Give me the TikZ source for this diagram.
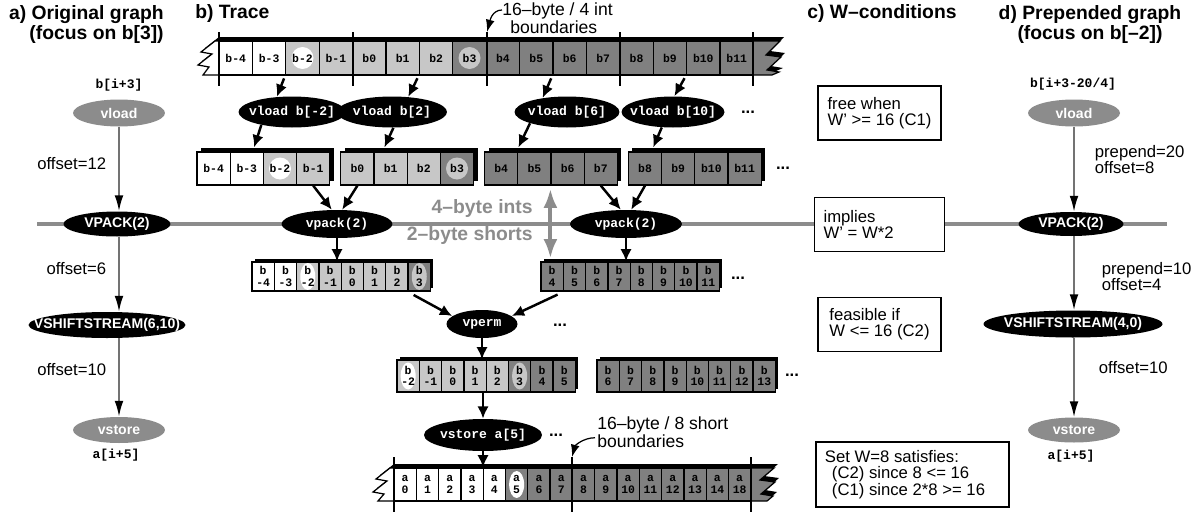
\documentclass[tikz,border=0pt]{standalone}
\usepackage{fontspec}
\setmainfont{Liberation Sans}
\setmonofont{Liberation Mono}
\usetikzlibrary{shapes.geometric, arrows.meta, positioning, calc}

\definecolor{cellL}{gray}{0.78}
\definecolor{cellD}{gray}{0.5}
\definecolor{lineG}{gray}{0.55}
\definecolor{edgeG}{gray}{0.45}

\begin{document}
\begin{tikzpicture}[x=0.02cm, y=-0.02cm,
    edge/.style={line width=0.7pt},
    cell/.style={draw, line width=0.7pt, minimum width=0.668cm, minimum height=0.68cm, inner sep=0pt, font=\ttfamily\bfseries\fontsize{6.5}{6.6}\selectfont},
    scell/.style={cell, minimum width=0.446cm, align=center},
    hlc/.style={path picture={\fill[fill=#1] (path picture bounding box.center) circle (0.22cm);}},
    hle/.style={path picture={\fill[fill=#1] (path picture bounding box.center) ellipse (0.15cm and 0.27cm);}},
    op/.style={ellipse, fill=black, text=white, inner xsep=-20pt, inner ysep=0pt, font=\ttfamily\bfseries\fontsize{7.4}{8}\selectfont},
    gop/.style={op, font=\bfseries\fontsize{8}{9}\selectfont},
    gmem/.style={gop, fill=lineG},
    addr/.style={font=\ttfamily\bfseries\fontsize{7.4}{8}\selectfont, inner sep=0pt},
    arrow/.style={-{Latex[length=7pt, width=6.5pt]}, line width=1.4pt},
    garrow/.style={draw=edgeG, line width=1pt, -{Latex[length=9pt, width=5pt, color=black]}},
    glab/.style={font=\fontsize{9.5}{9.2}\selectfont, inner sep=0pt, align=left},
    blab/.style={font=\fontsize{10}{9.2}\selectfont, inner sep=0pt, align=left},
    cond/.style={draw, line width=0.7pt, fill=white, minimum height=1.08cm, minimum width=2.46cm, inner xsep=0.18cm, align=left, font=\fontsize{9.5}{9.3}\selectfont},
    title/.style={font=\bfseries\fontsize{11}{10.3}\selectfont, inner sep=0pt},
    dots/.style={font=\bfseries\fontsize{9.5}{10}\selectfont, inner sep=0pt},
    lane/.style={draw=lineG, line width=2.3pt},
    flip/.style={lane, {Latex[length=11pt, width=8pt]}-{Latex[length=11pt, width=8pt]}}
  ]
  \useasboundingbox (0,0) rectangle (1196,514);

  % --- int / short divider ---
  \draw[lane] (37,224) -- (1167,224);

  % --- TITLES ---
  \node[title, anchor=north east, align=right] (ta) at (164,5) {a) Original graph\\(focus on b[3])};
  \node[title, anchor=north west] (tb) at (195,4) {b) Trace};
  \node[title, anchor=north west] (tc) at (807,4) {c) W–conditions};
  \node[title, anchor=north, align=center] (td) at (1090,5) {d) Prepended graph\\(focus on b[–2])};

  % --- SUBFIGURE A: ORIGINAL GRAPH ---
  \node[addr] (ain) at (119,85) {b[i+3]};
  \node[gmem, minimum width=1.84cm, minimum height=0.54cm] (gld) at (119,113) {vload};
  \node[gop, minimum width=2.14cm, minimum height=0.5cm] (gpk) at (117,224) {VPACK(2)};
  \node[gop, minimum width=3.14cm, minimum height=0.52cm] (gsh) at (107,325) {VSHIFTSTREAM(6,10)};
  \node[gmem, minimum width=1.84cm, minimum height=0.52cm] (gst) at (119,430) {vstore};
  \node[addr] (aout) at (116,455) {a[i+5]};
  \draw[garrow] (gld.south) -- node[glab, left=0.24cm, pos=0.43] (lo1) {offset=12} (gld.south |- gpk.north);
  \draw[garrow] (gld.south |- gpk.south) -- node[glab, left=0.24cm, pos=0.42] (lo2) {offset=6} (gld.south |- gsh.north);
  \draw[garrow] (gld.south |- gsh.south) -- node[glab, left=0.24cm, pos=0.4] (lo3) {offset=10} (gld.south |- gst.north);

  % --- SUBFIGURE B: TRACE ---
  % memory row b[]
  \fill[black, shift={(4,-4)}] (215,41) -- (780,41) -- (766,55) -- (781,57) -- (767,70) -- (779,72) -- (772,75) -- (203,75) -- (209,67) -- (198,65) -- (212,54) -- (201,52) -- cycle;
  \fill[white] (215,41) -- (219,41) -- (219,75) -- (203,75) -- (209,67) -- (198,65) -- (212,54) -- (201,52) -- cycle;
  \fill[cellD] (753,41) -- (780,41) -- (766,55) -- (781,57) -- (767,70) -- (779,72) -- (772,75) -- (753,75) -- cycle;
  \def\blist{b-4/white/white, b-3/white/white, b-2/cellL/white, b-1/cellL/cellL, b0/cellL/cellL, b1/cellL/cellL, b2/cellL/cellL, b3/cellD/cellL, b4/cellD/cellD, b5/cellD/cellD, b6/cellD/cellD, b7/cellD/cellD, b8/cellD/cellD, b9/cellD/cellD, b10/cellD/cellD, b11/cellD/cellD}
  \foreach \lab/\fc/\hc [count=\i from 0] in \blist
    \node[cell, fill=\fc, hlc=\hc] (m\i) at ({219+33.4*(\i+0.5)},58) {\lab};
  \draw[edge] (219,41) -- (215,41) -- (201,52) -- (212,54) -- (198,65) -- (209,67) -- (203,75) -- (219,75);
  \draw[edge] (753,41) -- (780,41) -- (766,55) -- (781,57) -- (767,70) -- (779,72) -- (772,75) -- (753,75);
  \foreach \x in {219,353,487,620,753}
    \draw[line width=0.8pt] (\x,32) -- (\x,86);
  \coordinate (tk1) at (487,32);
  \node[blab, anchor=north west] (bnd1) at (502,2) {16–byte / 4 int\\\hspace*{0.16cm}boundaries};
  \draw[edge, -{Latex[length=7pt, width=5pt]}] ($(bnd1.north west)+(0,8)$) to[out=180, in=75] (tk1);

  % vector loads
  \node[op, minimum width=2.14cm, minimum height=0.62cm] (ld1) at (292,112) {vload b[-2]};
  \node[op, minimum width=2.2cm, minimum height=0.62cm] (ld2) at (392,112) {vload b[2]};
  \node[op, minimum width=2.1cm, minimum height=0.62cm] (ld3) at (567,112) {vload b[6]};
  \node[op, minimum width=2.06cm, minimum height=0.62cm] (ld4) at (673,112) {vload b[10]};
  \node[dots] (d1) at (748,112) {...};
  \draw[arrow, shorten <=0.06cm] (m2.south west) -- (ld1.135);
  \draw[arrow, shorten <=0.06cm] (m6.south west) -- (ld2.43);
  \draw[arrow, shorten <=0.06cm] (m10.south west) -- (ld3.150);
  \draw[arrow, shorten <=0.06cm] (m14.south west) -- (ld4.85);

  % int registers
  \foreach \gx in {197,340.8,484.6,628.4}
    \fill[black] ({\gx+4},148) rectangle ++(132.8,33);
  \foreach \lab/\fc/\hc [count=\i from 0] in \blist
    \node[cell, minimum width=0.664cm, minimum height=0.66cm, fill=\fc, hlc=\hc] (r\i) at ({197+33.2*(\i+0.5)+11*floor(\i/4)},168.5) {\lab};
  \node[dots] (d2) at (783,168) {...};
  \draw[arrow] (ld1.203) -- ($(r1.north east)+(-10,-4)$);
  \draw[arrow] (ld2.275) -- ($(r5.north west)+(11,-4)$);
  \draw[arrow] (ld3.197) -- ($(r8.north east)+(0,-4)$);
  \draw[arrow] (ld4.234) -- ($(r12.north east)+(-9,-4)$);

  % packs
  \node[op, minimum width=2.22cm, minimum height=0.56cm] (pk1) at (337,224) {vpack(2)};
  \node[op, minimum width=2.24cm, minimum height=0.56cm] (pk2) at (626,224) {vpack(2)};
  \draw[arrow] (r3.south) -- (pk1.110);
  \draw[arrow] (r4.south) -- (pk1.70);
  \draw[arrow] (r11.south) -- (pk2.110);
  \draw[arrow] (r12.south) -- (pk2.70);
  \node[font=\bfseries\fontsize{11}{12}\selectfont, text=lineG, anchor=east, inner sep=0pt] (ints) at (533,208) {4–byte ints};
  \node[font=\bfseries\fontsize{11}{12}\selectfont, text=lineG, anchor=east, inner sep=0pt] (shorts) at (533,235) {2–byte shorts};

  % short registers
  \foreach \gx in {252,541}
    \fill[black] ({\gx+3},259) rectangle ++(178.4,29);
  \foreach \lab/\fc/\hc [count=\i from 0] in {-4/white/white, -3/white/white, -2/cellL/white, -1/cellL/cellL, 0/cellL/cellL, 1/cellL/cellL, 2/cellL/cellL, 3/cellD/cellL, 4/cellD/cellD, 5/cellD/cellD, 6/cellD/cellD, 7/cellD/cellD, 8/cellD/cellD, 9/cellD/cellD, 10/cellD/cellD, 11/cellD/cellD}
    \node[scell, minimum height=0.58cm, fill=\fc, hle=\hc] (s\i) at ({252+22.3*(\i+0.5)+110.6*floor(\i/8)},276.5) {b\\\lab};
  \node[dots] (d3) at (738,278) {...};
  \draw[arrow] (pk1.south) -- (pk1.south |- s0.north);
  \draw[arrow] (pk2.south) -- (pk2.south |- s8.north);
  \draw[flip, shorten <=0.06cm, shorten >=0.06cm] (r10.south west) -- (r10.south west |- s8.north);

  % permute
  \node[op, minimum width=1.42cm, minimum height=0.56cm] (pm) at (482,324) {vperm};
  \node[dots] (d4) at (560,325) {...};
  \draw[arrow, shorten <=0.14cm] (s7.south west) -- (pm.165);
  \draw[arrow, shorten <=0.14cm] (s8.south east) -- (pm.15);

  \foreach \gx in {397,597}
    \fill[black] ({\gx+3},357) rectangle ++(178.4,32);
  \foreach \lab/\fc/\hc [count=\i from 0] in {-2/cellL/white, -1/cellL/cellL, 0/cellL/cellL, 1/cellL/cellL, 2/cellL/cellL, 3/cellD/cellL, 4/cellD/cellD, 5/cellD/cellD, 6/cellD/cellD, 7/cellD/cellD, 8/cellD/cellD, 9/cellD/cellD, 10/cellD/cellD, 11/cellD/cellD, 12/cellD/cellD, 13/cellD/cellD}
    \node[scell, minimum height=0.64cm, fill=\fc, hle=\hc] (p\i) at ({397+22.3*(\i+0.5)+21.6*floor(\i/8)},376) {b\\\lab};
  \node[dots] (d5) at (792,375) {...};
  \draw[arrow] (pm.south) -- (pm.south |- p0.north);

  % store
  \node[op, minimum width=2.36cm, minimum height=0.64cm] (st) at (483,435) {vstore a[5]};
  \node[dots] (d6) at (556,435) {...};
  \draw[arrow] (st.north |- p0.south) -- (st.north);

  % memory row a[]
  \fill[black, shift={(4,-4)}] (390,468) -- (774,468) -- (760,480) -- (775,482) -- (761,494) -- (773,496) -- (767,501) -- (378,501) -- (384,494) -- (373,492) -- (387,481) -- (376,479) -- cycle;
  \fill[white] (390,468) -- (394,468) -- (394,501) -- (378,501) -- (384,494) -- (373,492) -- (387,481) -- (376,479) -- cycle;
  \fill[cellD] (751,468) -- (774,468) -- (760,480) -- (775,482) -- (761,494) -- (773,496) -- (767,501) -- (751,501) -- cycle;
  \foreach \lab/\fc/\hc [count=\i from 0] in {0/white/white, 1/white/white, 2/white/white, 3/white/white, 4/white/white, 5/cellD/white, 6/cellD/cellD, 7/cellD/cellD, 8/cellD/cellD, 9/cellD/cellD, 10/cellD/cellD, 11/cellD/cellD, 12/cellD/cellD, 13/cellD/cellD, 14/cellD/cellD, 18/cellD/cellD}
    \node[scell, minimum height=0.66cm, fill=\fc, hle=\hc] (a\i) at ({394+22.3*(\i+0.5)},484.5) {a\\\lab};
  \draw[edge] (394,468) -- (390,468) -- (376,479) -- (387,481) -- (373,492) -- (384,494) -- (378,501) -- (394,501);
  \draw[edge] (751,468) -- (774,468) -- (760,480) -- (775,482) -- (761,494) -- (773,496) -- (767,501) -- (751,501);
  \foreach \x in {394,572,751}
    \draw[line width=0.8pt] (\x,457) -- (\x,512);
  \coordinate (tk2) at (572,457);
  \node[blab, anchor=north west] (bnd2) at (597,416) {16–byte / 8 short\\boundaries};
  \draw[edge, -{Latex[length=7pt, width=5pt]}] ($(bnd2.south west)+(-2,-10)$) to[out=180, in=75] (tk2);
  \draw[arrow] (st.south) -- (st.south |- a0.north);

  % --- SUBFIGURE C: W-CONDITIONS ---
  \node[cond] (c1) at (879.5,113) {free when\\W' >= 16 (C1)};
  \node[cond] (c2) at (879.5,224.5) {implies\hspace*{1.2cm}\\W' = W*2};
  \node[cond] (c3) at (879.5,324.5) {feasible if\\W <= 16 (C2)};
  \node[cond, minimum width=3.78cm, minimum height=1.3cm] (c4) at (912.5,474.5) {Set W=8 satisfies:\\\hspace*{4pt}(C2) since 8 <= 16\\\hspace*{4pt}(C1) since 2*8 >= 16\hspace*{0.3cm}};

  % --- SUBFIGURE D: PREPENDED GRAPH ---
  \node[addr] (din) at (1073,84) {b[i+3-20/4]};
  \node[gmem, minimum width=1.84cm, minimum height=0.54cm] (dld) at (1074,113) {vload};
  \node[gop, minimum width=2.1cm, minimum height=0.48cm] (dpk) at (1071,224) {VPACK(2)};
  \node[gop, minimum width=3.58cm, minimum height=0.54cm] (dsh) at (1073,324) {VSHIFTSTREAM(4,0)};
  \node[gmem, minimum width=1.84cm, minimum height=0.5cm] (dst) at (1074,430) {vstore};
  \node[addr] (dout) at (1071,456) {a[i+5]};
  \draw[garrow] (dld.south) -- node[glab, right=0.4cm, pos=0.39] (lp1) {prepend=20\\offset=8} (dld.south |- dpk.north);
  \draw[garrow] (dld.south |- dpk.south) -- node[glab, right=0.54cm, pos=0.54] (lp2) {prepend=10\\offset=4} (dld.south |- dsh.north);
  \draw[garrow] (dld.south |- dsh.south) -- node[glab, right=0.48cm, pos=0.38] (lp3) {offset=10} (dld.south |- dst.north);
\end{tikzpicture}
\end{document}
